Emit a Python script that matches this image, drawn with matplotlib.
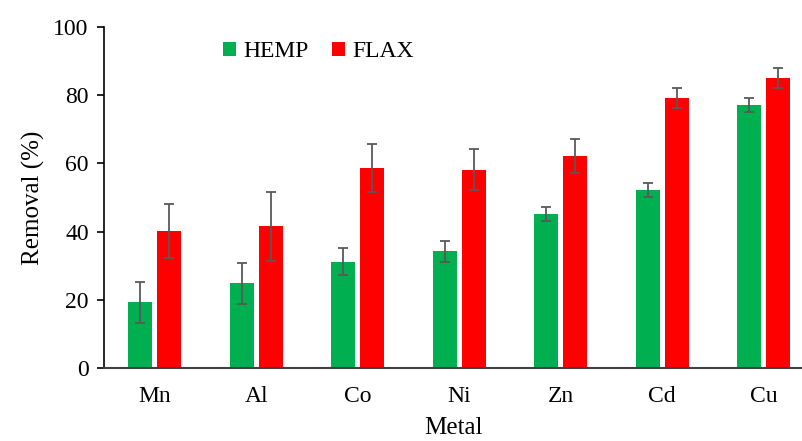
import numpy as np
import matplotlib.pyplot as plt

plt.rcParams["font.family"] = ["Liberation Serif", "DejaVu Serif"]

metals = ["Mn", "Al", "Co", "Ni", "Zn", "Cd", "Cu"]
hemp = [19.3, 24.8, 31.2, 34.2, 45.2, 52.2, 77.1]
hemp_err = [6.0, 6.0, 4.0, 3.0, 2.0, 2.0, 2.0]
flax = [40.2, 41.5, 58.6, 58.2, 62.1, 79.1, 85.0]
flax_err = [8.0, 10.0, 7.0, 6.0, 5.0, 3.0, 3.0]

GREEN = "#00B050"
RED = "#FF0000"
ERR = "#595959"

fig = plt.figure(figsize=(8.02, 4.41), dpi=100)
ax = fig.add_axes([104 / 802, 73 / 441, 698 / 802, 341 / 441])

x = np.arange(len(metals))
w = 0.24
err_kw = dict(ecolor=ERR, elinewidth=1.3, capsize=3.7, capthick=1.3)

ax.bar(x - 0.143, hemp, w, yerr=hemp_err, color=GREEN, label="HEMP",
       error_kw=err_kw)
ax.bar(x + 0.143, flax, w, yerr=flax_err, color=RED, label="FLAX",
       error_kw=err_kw)

ax.set_xlim(-0.5, 6.377)
ax.set_ylim(0, 100)
ax.set_yticks(range(0, 101, 20))
ax.set_xticks(x)
ax.set_xticklabels(metals)

ax.spines["top"].set_visible(False)
ax.spines["right"].set_visible(False)
ax.spines["bottom"].set_color("#404040")
ax.spines["bottom"].set_linewidth(1.5)
ax.spines["left"].set_linewidth(1.2)
ax.tick_params(axis="x", length=0, labelsize=17, pad=13)
ax.tick_params(axis="y", direction="out", length=5, width=1.2, labelsize=17,
               pad=6)

ax.set_ylabel("Removal (%)", fontsize=18, labelpad=6)
ax.set_xlabel("Metal", fontsize=18, labelpad=7)

ax.legend(loc="upper left", bbox_to_anchor=(0.14, 1.02), ncol=2, frameon=False,
          fontsize=17, handlelength=0.55, handleheight=0.55, handletextpad=0.3,
          columnspacing=1.0)

plt.savefig("out.png", dpi=100)
